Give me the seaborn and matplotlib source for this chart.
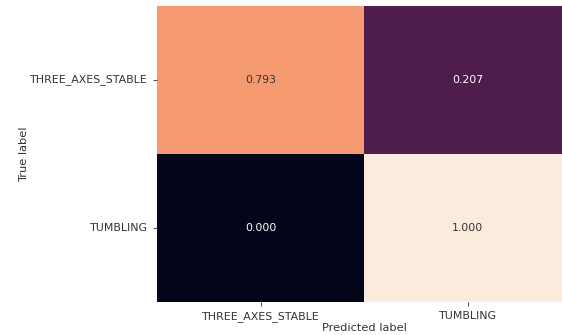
import matplotlib
matplotlib.use("Agg")
import matplotlib.pyplot as plt
import seaborn as sns
import numpy as np
import pandas as pd

classes = ["THREE_AXES_STABLE", "TUMBLING"]
row_three_axes = [0.793, 0.207]
row_tumbling = [0.000, 1.000]

cm = pd.DataFrame([row_three_axes, row_tumbling], index=classes, columns=classes)

fig = plt.figure(figsize=(5.62, 3.35), dpi=100)
ax = fig.add_axes([157 / 562, 33 / 335, 414 / 562, 296 / 335])
sns.heatmap(cm, annot=True, fmt=".3f", cmap="rocket", vmin=0, vmax=1,
            cbar=False, ax=ax, annot_kws={"fontsize": 7.8})
for t in ax.texts:
    if t.get_color() in ("#262626", ".15", (0.15, 0.15, 0.15)) or t.get_text() == "0.793" or t.get_text() == "1.000":
        t.set_color("#333333")
ax.set_xlabel("Predicted label", fontsize=8.2, labelpad=1, color="#333333")
ax.set_ylabel("True label", fontsize=8.2, labelpad=1, color="#333333")
ax.tick_params(axis="both", labelsize=7.9, length=3, labelcolor="#333333", color="#555555")
plt.setp(ax.get_yticklabels(), rotation=0)
plt.setp(ax.get_xticklabels(), rotation=0)
fig.savefig("out.png", dpi=100)
